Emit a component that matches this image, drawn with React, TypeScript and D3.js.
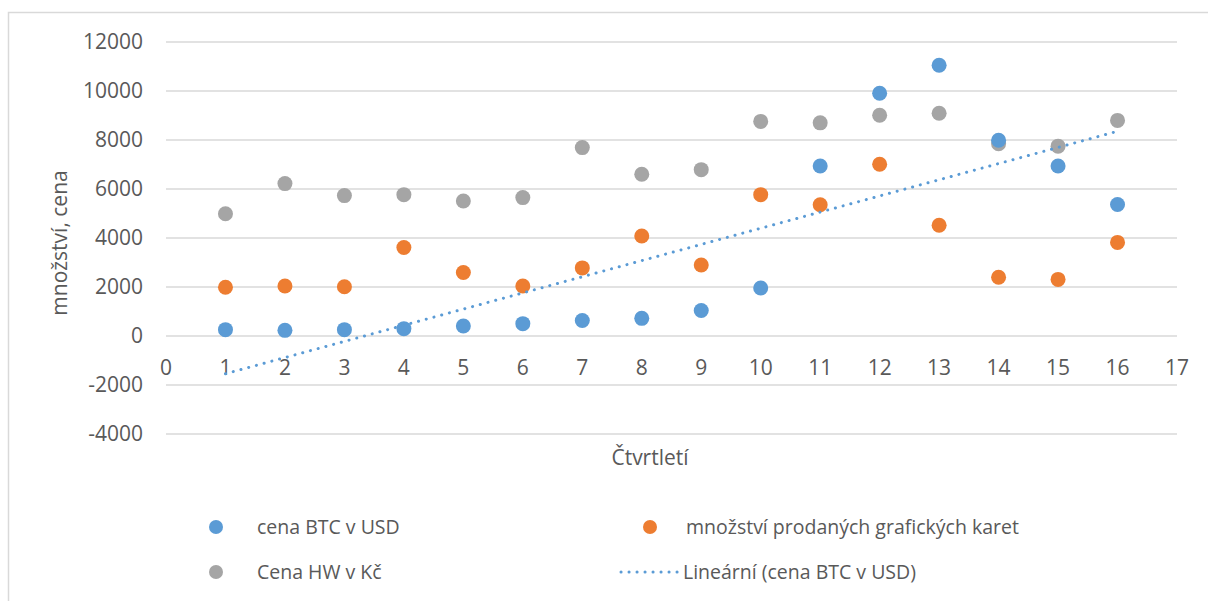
import React from 'react';
import * as d3 from 'd3';

// čtvrtletí 1..16
const quarters = d3.range(1, 17);
const btcUsd = [260, 230, 260, 300, 410, 505, 630, 720, 1040, 1960, 6940, 9910, 11050, 7990, 6940, 5370];
const gpuSold = [1990, 2040, 2010, 3610, 2590, 2040, 2780, 4080, 2900, 5770, 5360, 7010, 4520, 2400, 2310, 3820];
const hwCzk = [4990, 6220, 5730, 5770, 5510, 5650, 7690, 6600, 6790, 8760, 8700, 9010, 9090, 7850, 7750, 8800];
const yTicks = [-4000, -2000, 0, 2000, 4000, 6000, 8000, 10000, 12000];
const xTicks = d3.range(0, 18);

const seriesNames = ['cena BTC v USD', 'množství prodaných grafických karet', 'Cena HW v Kč', 'Lineární (cena BTC v USD)'];

const W = 1208;
const H = 601;
const font = '"Open Sans", "Noto Sans", sans-serif';
const textColor = '#595959';
const gridColor = '#D9D9D9';

export default function App() {
  const x = d3.scaleLinear().domain([0, 17]).range([166, 1177]);
  const y = d3.scaleLinear().domain([-4000, 12000]).range([434, 42]);

  // lineární trend pro BTC (nejmenší čtverce)
  const mx = d3.mean(quarters) as number;
  const my = d3.mean(btcUsd) as number;
  const sxy = d3.sum(quarters, (q, i) => (q - mx) * (btcUsd[i] - my));
  const sxx = d3.sum(quarters, (q) => (q - mx) * (q - mx));
  const slope = sxy / sxx;
  const icpt = my - slope * mx;
  const trendPts: [number, number][] = [1, 16].map((q) => [x(q), y(icpt + slope * q)]);
  const trend = d3.line()(trendPts) as string;

  const series = [
    { data: btcUsd, color: '#5B9BD5' },
    { data: gpuSold, color: '#ED7D31' },
    { data: hwCzk, color: '#A5A5A5' },
  ];
  const drawOrder = [2, 1, 0];

  return (
    <svg width={W} height={H} style={{ position: 'absolute', left: 0, top: 0 }} fontFamily={font}>
      <rect x={0} y={0} width={W} height={H} fill="#fff" />
      <rect x={8.5} y={12.5} width={1400} height={800} fill="none" stroke={gridColor} strokeWidth={1.5} />

      {/* mřížka */}
      {yTicks.map((t) => (
        <line key={t} x1={x(0)} x2={x(17)} y1={y(t)} y2={y(t)} stroke={gridColor} strokeWidth={1.5} />
      ))}
      {yTicks.map((t) => (
        <text key={'yl' + t} x={143} y={y(t)} dy="0.35em" textAnchor="end" fontSize={21} fill={textColor}>
          {t}
        </text>
      ))}
      {xTicks.map((t) => (
        <text key={'xl' + t} x={x(t)} y={368} dy="0.35em" textAnchor="middle" fontSize={21} fill={textColor}>
          {t}
        </text>
      ))}

      <text transform={`translate(60,243) rotate(-90)`} dy="0.35em" textAnchor="middle" fontSize={21} fill={textColor}>
        množství, cena
      </text>
      <text x={650} y={458} dy="0.35em" textAnchor="middle" fontSize={21} fill={textColor}>
        Čtvrtletí
      </text>

      {/* body */}
      {drawOrder.map((si) => (
        <g key={'s' + si}>
          {series[si].data.map((v, i) => (
            <circle key={i} cx={x(quarters[i])} cy={y(v)} r={7.5} fill={series[si].color} />
          ))}
        </g>
      ))}

      <path d={trend} fill="none" stroke="#5B9BD5" strokeWidth={3} strokeDasharray="0.1 7.9" strokeLinecap="round" />

      {/* legenda */}
      <circle cx={216} cy={527} r={7} fill="#5B9BD5" />
      <text x={257} y={527} dy="0.35em" fontSize={19.5} fill={textColor}>{seriesNames[0]}</text>
      <circle cx={650} cy={527} r={7} fill="#ED7D31" />
      <text x={686} y={527} dy="0.35em" fontSize={19.5} fill={textColor}>{seriesNames[1]}</text>
      <circle cx={216} cy={572} r={7} fill="#A5A5A5" />
      <text x={257} y={572} dy="0.35em" fontSize={19.5} fill={textColor}>{seriesNames[2]}</text>
      <line x1={621} x2={678} y1={572} y2={572} stroke="#5B9BD5" strokeWidth={3} strokeDasharray="0.1 7.9" strokeLinecap="round" />
      <text x={683} y={572} dy="0.35em" fontSize={19.5} fill={textColor}>{seriesNames[3]}</text>
    </svg>
  );
}
